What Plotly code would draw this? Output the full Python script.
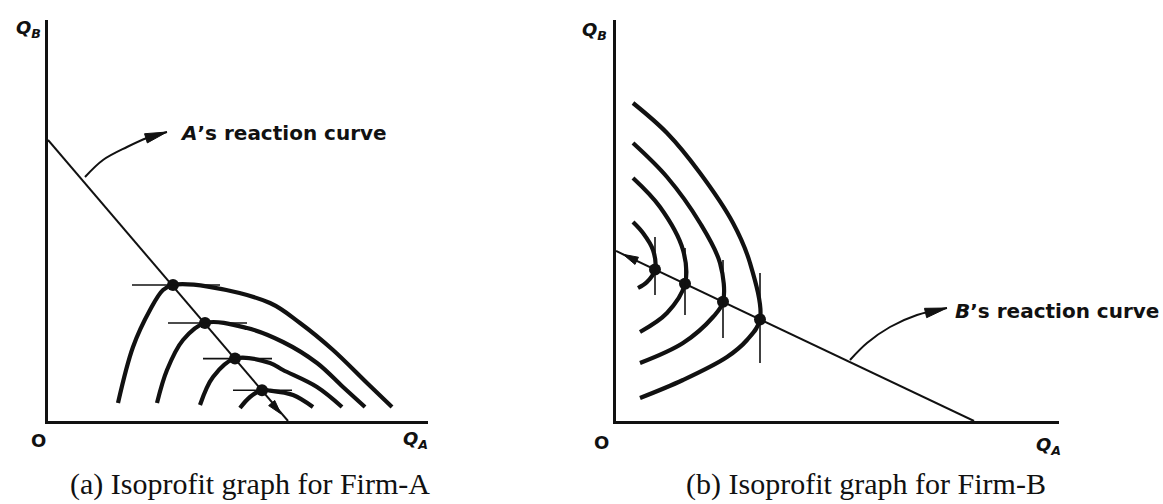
import math
import plotly.graph_objects as go

W, H = 1163, 504

# ---------------- Panel A data (units: Q_A, Q_B) ----------------
a_react_x = [0, 60]
a_react_y = [70.25, 0]
a_dots_x = [31.25, 39.25, 46.75, 53.5]
a_dots_y = [34.0, 24.5, 15.6, 7.7]
a_tan_x0 = [21, 30, 38.75, 46.25]
a_tan_x1 = [43, 49.75, 56, 61]
a_curves = [
    ([17.5, 21.25, 25.5, 28.75, 31.25, 40, 55.5, 63, 71.25, 79.75, 86],
     [4.5, 18.5, 27.75, 32.75, 34.0, 33.6, 29.5, 24.5, 17.75, 9.5, 3.5]),
    ([27.25, 29.75, 33.75, 39.25, 49.75, 58.75, 67.25, 73.75, 79.25],
     [4.5, 12.75, 20.25, 24.5, 23.25, 19.75, 14.5, 8.5, 3.5]),
    ([38, 41.25, 46.75, 55.5, 58.75, 67.25, 73.5],
     [4, 11, 15.6, 14.5, 12.75, 8.5, 3.5]),
    ([48, 50.5, 53.5, 55.5, 61.25, 66.25],
     [3.25, 6, 7.7, 7.6, 6.5, 3.5]),
]
a_label_arrow_x = [9.25, 13.75, 19.75, 24.75, 29.75]
a_label_arrow_y = [61, 65.25, 68.5, 70.75, 72.25]
a_head_tip = (58.25, 1.75)

# ---------------- Panel B data ----------------
b_react_x = [0, 89.5]
b_react_y = [42.5, 0]
b_dots_x = [9.75, 17.25, 26.75, 36]
b_dots_y = [37.9, 34.3, 29.8, 25.4]
b_vert_y0 = [31.5, 26.5, 20.75, 14.5]
b_vert_y1 = [46, 43.25, 40.25, 37]
b_curves = [
    ([4.25, 6.75, 9.25, 9.75, 7.75, 5.5],
     [49.75, 47, 42.75, 37.9, 34.75, 33.25]),
    ([4.25, 11, 16.75, 17.25, 12.75, 6],
     [60.75, 53.5, 42.75, 34.3, 27, 22.25]),
    ([4.25, 12.75, 21, 26, 26.75, 24.25, 16.75, 6],
     [69.5, 61, 49.5, 39.5, 29.8, 26, 19.5, 14.5]),
    ([4.25, 12.75, 21, 29.25, 33.5, 36, 32.75, 27.75, 16.75, 6],
     [79.5, 72, 62, 49.5, 39.5, 25.4, 20.25, 16, 10.25, 5.75]),
]
b_label_arrow_x = [58.5, 62.75, 68.5, 75.25, 82.75]
b_label_arrow_y = [15.25, 19.5, 23.5, 26.5, 28.25]
b_head_tip = (1.75, 41.67)

captions = ["(a) Isoprofit graph for Firm-A", "(b) Isoprofit graph for Firm-B"]
curve_labels = ["<i>A</i>\u2019s reaction curve", "<i>B</i>\u2019s reaction curve"]


def px(x):
    return x / W


def py(y):
    return 1 - y / H


fig = go.Figure()
BLACK = "#111"
LBL_FONT = dict(family="DejaVu Sans", size=20, color=BLACK, weight="bold")


def line(xa, ya, x, y, width, shape="linear"):
    fig.add_trace(go.Scatter(x=x, y=y, mode="lines",
                             line=dict(color=BLACK, width=width, shape=shape),
                             xaxis=xa, yaxis=ya, hoverinfo="skip"))


def head(xa, ya, tip, frm, length, hw):
    # filled triangle arrowhead; axes are isotropic (same px per unit)
    dx, dy = tip[0] - frm[0], tip[1] - frm[1]
    n = math.hypot(dx, dy)
    ux, uy = dx / n, dy / n
    bx, by = tip[0] - ux * length, tip[1] - uy * length
    xs = [tip[0], bx - uy * hw, bx + uy * hw, tip[0]]
    ys = [tip[1], by + ux * hw, by - ux * hw, tip[1]]
    fig.add_trace(go.Scatter(x=xs, y=ys, mode="lines", fill="toself", fillcolor=BLACK,
                             line=dict(color=BLACK, width=1), xaxis=xa, yaxis=ya,
                             hoverinfo="skip"))


def panel(xa, ya, react_x, react_y, dots_x, dots_y, curves, arr_x, arr_y):
    line(xa, ya, react_x, react_y, 2)
    for cx, cy in curves:
        line(xa, ya, cx, cy, 4.2, "spline")
    fig.add_trace(go.Scatter(x=dots_x, y=dots_y, mode="markers",
                             marker=dict(color=BLACK, size=12), xaxis=xa, yaxis=ya,
                             hoverinfo="skip"))
    line(xa, ya, arr_x, arr_y, 2, "spline")
    head(xa, ya, (arr_x[-1], arr_y[-1]), (arr_x[-2], arr_y[-2]), 5.5, 1.2)


panel("x", "y", a_react_x, a_react_y, a_dots_x, a_dots_y, a_curves,
      a_label_arrow_x, a_label_arrow_y)
panel("x2", "y2", b_react_x, b_react_y, b_dots_x, b_dots_y, b_curves,
      b_label_arrow_x, b_label_arrow_y)
# arrowheads along the reaction lines
head("x", "y", a_head_tip, (a_react_x[0], a_react_y[0]), 3.6, 1.0)
head("x2", "y2", b_head_tip, (b_react_x[1], b_react_y[1]), 3.8, 1.0)

# tangent lines
for i in range(4):
    line("x", "y", [a_tan_x0[i], a_tan_x1[i]], [a_dots_y[i]] * 2, 1.6)
    line("x2", "y2", [b_dots_x[i]] * 2, [b_vert_y0[i], b_vert_y1[i]], 1.6)

ann = []
# reaction-curve labels
ann.append(dict(x=32.5, y=72.0, xref="x", yref="y", xanchor="left", yanchor="middle",
                text=curve_labels[0], showarrow=False, font=LBL_FONT))
ann.append(dict(x=84.25, y=27.5, xref="x2", yref="y2", xanchor="left", yanchor="middle",
                text=curve_labels[1], showarrow=False, font=LBL_FONT))

# axis labels
QF = dict(family="DejaVu Sans", size=18, color=BLACK, weight="bold")
for (qx, qy, t) in [(28, 29, "B"), (594, 31, "B"), (415, 440, "A"), (1048, 446, "A")]:
    ann.append(dict(x=px(qx), y=py(qy), xref="paper", yref="paper", showarrow=False,
                    xanchor="center", yanchor="middle",
                    text="<i>Q</i><sub><i>%s</i></sub>" % t, font=QF))
for (ox, oy) in [(38, 440), (601, 442)]:
    ann.append(dict(x=px(ox), y=py(oy), xref="paper", yref="paper", showarrow=False,
                    xanchor="center", yanchor="middle",
                    text="O", font=dict(family="DejaVu Sans", size=18, color=BLACK, weight="bold")))

# captions
for (cx, t) in [(250, captions[0]), (866, captions[1])]:
    ann.append(dict(x=px(cx), y=py(484), xref="paper", yref="paper", showarrow=False,
                    xanchor="center", yanchor="middle",
                    text=t, font=dict(family="Liberation Serif", size=30, color=BLACK)))

axis_common = dict(showgrid=False, zeroline=False, showticklabels=False, ticks="",
                   showline=True, linewidth=3, linecolor=BLACK)

fig.update_layout(
    width=W, height=H, margin=dict(l=0, r=0, t=0, b=0),
    paper_bgcolor="white", plot_bgcolor="white", showlegend=False,
    xaxis=dict(domain=[px(48), px(428)], range=[0, 95], anchor="y", **axis_common),
    yaxis=dict(domain=[py(421), py(20)], range=[0, 100.25], anchor="x", **axis_common),
    xaxis2=dict(domain=[px(616), px(1059)], range=[0, 110.75], anchor="y2", **axis_common),
    yaxis2=dict(domain=[py(421), py(20)], range=[0, 100.25], anchor="x2", **axis_common),
    annotations=ann,
    hovermode=False,
)

fig.write_html("out.html", config={"displayModeBar": False},
               post_script="document.body.style.margin='0px';document.body.style.overflow='hidden';")
